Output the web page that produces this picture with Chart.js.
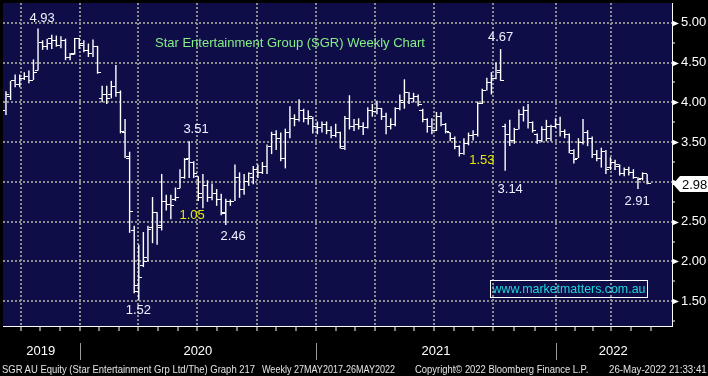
<!DOCTYPE html>
<html>
<head>
<meta charset="utf-8">
<title>Star Entertainment Group (SGR) Weekly Chart</title>
<script src="https://cdn.jsdelivr.net/npm/chart.js@4.4.1/dist/chart.umd.min.js"></script>
<style>
  html, body { margin: 0; padding: 0; background: #000; }
  #wrap { position: relative; width: 708px; height: 376px; overflow: hidden; font-family: 'Liberation Sans', Arial, sans-serif; }
  #chart { position: absolute; left: 0; top: 0; }
  .txt { position: absolute; white-space: nowrap; line-height: 1; }
  #title { left: 155px; top: 36px; font-size: 13px; color: #86ee86; }
  #site { left: 490px; top: 280px; width: 156px; height: 16px; border: 1px solid #fff; color: #1fd6e0; font-size: 12.4px;
          display: flex; align-items: center; justify-content: center; }
  .foot { top: 364px; font-size: 11px; color: #e4e4e4; transform-origin: left top; }
</style>
</head>
<body>
<div id="wrap">
  <canvas id="chart" width="708" height="376"></canvas>
  <div class="txt" id="title">Star Entertainment Group (SGR) Weekly Chart</div>
  <div class="txt" id="site">www.marketmatters.com.au</div>
  <div class="txt foot" style="left:2px" data-w="253">SGR AU Equity (Star Entertainment Grp Ltd/The) Graph 217</div>
  <div class="txt foot" style="left:262px" data-w="133">Weekly 27MAY2017-26MAY2022</div>
  <div class="txt foot" style="left:415px" data-w="173">Copyright© 2022 Bloomberg Finance L.P.</div>
  <div class="txt foot" style="left:609px" data-w="98">26-May-2022 21:33:41</div>
</div>
<script>
// weekly bars, Sep 2019 -> 26 May 2022 (index = week number)
const open = [3.90,4.08,4.27,4.22,4.30,4.32,4.28,4.40,4.75,4.70,4.80,4.78,4.72,4.78,4.56,4.62,4.80,4.74,4.65,4.62,
  4.70,4.05,4.10,4.10,4.20,4.12,3.62,3.30,2.39,1.70,1.95,2.05,2.43,2.61,2.43,2.75,2.72,2.78,2.92,3.05,
  3.30,3.25,3.07,2.85,2.95,2.80,2.85,2.78,2.60,2.75,2.76,3.05,2.90,3.00,3.05,3.15,3.12,3.20,3.44,3.60,
  3.55,3.30,3.62,3.80,3.78,3.90,3.80,3.80,3.70,3.68,3.72,3.65,3.58,3.62,3.42,3.80,3.70,3.72,3.70,3.68,
  3.90,3.88,3.92,3.82,3.70,3.72,3.92,4.00,4.12,4.05,4.08,3.90,3.78,3.70,3.65,3.82,3.72,3.62,3.55,3.45,
  3.36,3.48,3.58,3.60,3.99,4.15,4.25,4.30,4.40,3.70,3.60,3.52,3.66,3.85,3.90,3.75,3.60,3.52,3.66,3.55,
  3.70,3.72,3.63,3.60,3.36,3.30,3.50,3.62,3.55,3.35,3.30,3.38,3.18,3.25,3.20,3.10,3.15,3.12,3.05,3.04,3.10];
const high = [4.14,4.27,4.35,4.35,4.38,4.40,4.54,4.93,4.78,4.80,4.85,4.84,4.83,4.80,4.62,4.81,4.81,4.78,4.74,4.79,
  4.71,4.21,4.21,4.27,4.47,4.15,3.79,3.38,2.45,2.21,2.37,2.45,2.81,2.62,3.10,2.84,2.84,2.93,3.16,3.30,
  3.51,3.26,3.07,3.10,3.02,2.98,2.91,2.85,2.79,2.78,3.22,3.12,3.10,3.12,3.20,3.22,3.25,3.47,3.63,3.65,
  3.62,3.67,3.95,3.85,4.04,3.92,3.90,3.82,3.76,3.76,3.76,3.70,3.73,3.63,3.83,4.09,3.79,3.80,3.75,3.94,
  3.98,4.02,3.93,3.87,3.80,3.94,4.10,4.29,4.13,4.12,4.10,3.92,3.80,3.80,3.88,3.88,3.74,3.62,3.57,3.46,
  3.55,3.62,3.65,4.01,4.17,4.31,4.38,4.50,4.67,3.73,3.78,3.68,3.91,3.95,3.98,3.76,3.61,3.70,3.78,3.72,
  3.80,3.82,3.66,3.61,3.41,3.55,3.79,3.65,3.57,3.40,3.43,3.40,3.31,3.28,3.22,3.18,3.19,3.16,3.06,3.12,3.10];
const low = [3.84,4.03,4.19,4.19,4.28,4.24,4.28,4.40,4.66,4.66,4.67,4.70,4.68,4.53,4.53,4.60,4.67,4.63,4.57,4.57,
  4.36,4.00,3.98,4.05,4.07,3.61,3.30,2.36,1.60,1.52,1.93,2.00,2.23,2.21,2.39,2.64,2.53,2.76,2.92,3.04,
  3.05,3.05,2.76,2.67,2.75,2.77,2.70,2.58,2.46,2.70,2.76,2.80,2.84,2.95,2.97,3.05,3.10,3.10,3.35,3.40,
  3.26,3.17,3.55,3.70,3.76,3.75,3.72,3.61,3.60,3.62,3.60,3.55,3.56,3.42,3.40,3.66,3.64,3.66,3.59,3.67,
  3.82,3.85,3.78,3.60,3.66,3.70,3.90,3.92,3.98,4.00,3.95,3.75,3.62,3.60,3.64,3.70,3.61,3.51,3.41,3.32,
  3.34,3.46,3.52,3.57,3.98,4.15,4.10,4.29,4.27,3.14,3.45,3.48,3.66,3.76,3.67,3.62,3.48,3.50,3.51,3.51,
  3.68,3.57,3.55,3.36,3.23,3.30,3.47,3.45,3.30,3.26,3.18,3.10,3.15,3.15,3.08,3.07,3.08,3.04,2.91,3.02,2.97];
const close = [4.10,4.27,4.22,4.30,4.32,4.28,4.37,4.75,4.70,4.74,4.78,4.72,4.78,4.56,4.60,4.80,4.72,4.65,4.62,4.70,
  4.38,4.10,4.05,4.20,4.12,3.64,3.32,2.63,1.62,1.80,2.00,2.40,2.61,2.45,2.75,2.72,2.70,2.80,3.05,3.28,
  3.25,3.10,2.80,2.95,2.80,2.85,2.78,2.62,2.75,2.76,3.05,2.90,3.00,3.10,3.15,3.12,3.20,3.44,3.60,3.55,
  3.30,3.62,3.80,3.78,3.90,3.80,3.82,3.70,3.68,3.72,3.65,3.58,3.62,3.45,3.80,3.70,3.72,3.70,3.68,3.90,
  3.88,3.92,3.82,3.70,3.72,3.92,4.02,4.12,4.05,4.08,3.97,3.78,3.70,3.65,3.82,3.72,3.63,3.55,3.45,3.36,
  3.48,3.58,3.60,3.99,4.15,4.25,4.30,4.38,4.28,3.60,3.52,3.66,3.85,3.90,3.75,3.65,3.52,3.66,3.70,3.70,
  3.72,3.63,3.60,3.40,3.28,3.50,3.62,3.55,3.35,3.30,3.38,3.15,3.25,3.22,3.10,3.15,3.12,3.05,3.03,3.10,2.98];

// axis marks, in week-index units
const quarterStarts = [3.26, 16.09, 28.91, 41.74, 54.78, 67.61, 80.65, 93.48, 106.3, 120.2, 132.2];
const yearBreaks = [16.09, 67.61, 120.2];
const yearNames = ['2019', '2020', '2021', '2022'];
const yearCentres = [7.6, 41.9, 93.9, 132.6];

// labels written on the chart
const noteText  = ['4.93', '3.51', '1.05', '1.52', '2.46', '4.67', '1.53', '3.14', '2.91'];
const noteWeek  = [7.9, 41.5, 40.65, 28.9, 49.6, 108.0, 103.9, 110.1, 137.8];
const notePrice = [5.06, 3.66, 2.58, 1.39, 2.32, 4.82, 3.27, 2.91, 2.76];
const noteYellow = [false, false, true, false, false, false, true, false, false];

const X_MIN = -0.65, X_MAX = 145.43;
const Y_MIN = 1.189, Y_MAX = 5.249;
const NAVY = '#0e0d48';
const GRID = '#8c8c8c';
const FONT = "'Liberation Sans', Arial, sans-serif";

// month ticks: thirds between quarter lines
const monthTicks = [];
for (let q = 0; q < quarterStarts.length; q++) {
  const a = quarterStarts[q];
  const step = q + 1 < quarterStarts.length ? (quarterStarts[q + 1] - a) / 3 : 4.3;
  for (let k = 0; k < 3; k++) monthTicks.push(a + k * step);
  if (q === 0) monthTicks.unshift(a - step);
}
const xTicks = monthTicks.filter(v => v > X_MIN && v < X_MAX);

const yTicks = [];
for (let v = 1.25; v <= 5.001; v += 0.25) yTicks.push(+v.toFixed(2));
const isMajor = v => Math.abs(v * 2 - Math.round(v * 2)) < 1e-6;

// no extra room for overhanging labels: plot fills the frame
function noPad(s) {
  s.paddingLeft = 0; s.paddingRight = 0; s.paddingTop = 0; s.paddingBottom = 0;
}

function tickMark(side) {
  const c = document.createElement('canvas');
  c.width = 7; c.height = 1;
  const g = c.getContext('2d');
  g.fillStyle = '#fff';
  g.fillRect(side < 0 ? 0 : 4, 0, 3, 1);
  return c;
}

const decor = {
  id: 'decor',
  beforeDraw(chart) {
    const {ctx, chartArea: a} = chart;
    ctx.save();
    ctx.fillStyle = '#000';
    ctx.fillRect(0, 0, chart.width, chart.height);
    ctx.fillStyle = NAVY;
    ctx.fillRect(a.left, a.top, a.right - a.left, a.bottom - a.top);
    ctx.restore();
  },
  beforeDatasetsDraw(chart) {
    chart.ctx.imageSmoothingEnabled = false;
  },
  afterDraw(chart) {
    const ctx = chart.ctx, xs = chart.scales.x, ys = chart.scales.y;
    ctx.save();
    // arrow heads on the price axis
    ctx.fillStyle = '#fff';
    yTicks.filter(isMajor).forEach(v => {
      const py = Math.round(ys.getPixelForValue(v)) + 0.5;
      ctx.beginPath();
      ctx.moveTo(ys.left, py - 3);
      ctx.lineTo(ys.left + 7, py);
      ctx.lineTo(ys.left, py + 3);
      ctx.closePath();
      ctx.fill();
    });
    // year separators
    ctx.strokeStyle = '#9a9a9a';
    ctx.lineWidth = 1;
    yearBreaks.forEach(v => {
      const px = Math.round(xs.getPixelForValue(v)) + 0.5;
      ctx.beginPath();
      ctx.moveTo(px, 343);
      ctx.lineTo(px, 360);
      ctx.stroke();
    });
    // last price tag
    const last = close[close.length - 1];
    const py = Math.round(ys.getPixelForValue(last));
    const bx = ys.left + 1;
    ctx.fillStyle = '#fff';
    ctx.beginPath();
    ctx.moveTo(bx, py);
    ctx.lineTo(bx + 7, py - 8);
    ctx.lineTo(chart.width, py - 8);
    ctx.lineTo(chart.width, py + 8);
    ctx.lineTo(bx + 7, py + 8);
    ctx.closePath();
    ctx.fill();
    ctx.fillStyle = '#000';
    ctx.font = '13px ' + FONT;
    ctx.textAlign = 'left';
    ctx.textBaseline = 'middle';
    ctx.fillText(last.toFixed(2), ys.left + 10, py + 1);
    // notes
    ctx.textAlign = 'center';
    noteText.forEach((t, i) => {
      ctx.fillStyle = noteYellow[i] ? '#e8e800' : '#eef0ff';
      ctx.fillText(t, xs.getPixelForValue(noteWeek[i]), ys.getPixelForValue(notePrice[i]));
    });
    ctx.restore();
  }
};

Chart.defaults.font.family = FONT;

window.onload = function () {
  document.querySelectorAll('.foot').forEach(el => {
    el.style.transform = 'scaleX(' + (+el.dataset.w / el.offsetWidth) + ')';
  });

  const ctx = document.getElementById('chart').getContext('2d');
  new Chart(ctx, {
    type: 'bar',
    data: {
      datasets: [{
        type: 'line',
        data: open.map((v, i) => ({x: i, y: v})),
        showLine: false,
        pointStyle: tickMark(-1),
        pointRadius: 2,
        pointHoverRadius: 2
      }, {
        type: 'line',
        data: close.map((v, i) => ({x: i, y: v})),
        showLine: false,
        pointStyle: tickMark(1),
        pointRadius: 2,
        pointHoverRadius: 2
      }, {
        type: 'bar',
        data: low.map((v, i) => ({x: i, y: [v, high[i]]})),
        backgroundColor: '#ffffff',
        borderWidth: 0,
        barThickness: 1.4,
        inflateAmount: 0,
        grouped: false
      }]
    },
    options: {
      responsive: false,
      maintainAspectRatio: false,
      animation: false,
      events: [],
      layout: { padding: 0 },
      plugins: { legend: { display: false }, tooltip: { enabled: false } },
      scales: {
        x: {
          type: 'linear',
          position: 'bottom',
          weight: 0,
          min: X_MIN, max: X_MAX,
          offset: false,
          afterBuildTicks: s => { s.ticks = xTicks.map(v => ({value: v})); },
          afterFit: s => { s.height = 0; noPad(s); },
          ticks: { display: false },
          grid: {
            offset: false,
            color: c => quarterStarts.includes(c.tick.value) ? GRID : 'rgba(0,0,0,0)',
            lineWidth: 2,
            tickColor: '#ffffff',
            tickWidth: 1,
            tickLength: 5
          },
          border: { display: true, color: '#ffffff', width: 1, dash: [2, 2] }
        },
        xl: {
          type: 'linear',
          position: 'bottom',
          weight: 1,
          min: X_MIN, max: X_MAX,
          offset: false,
          afterBuildTicks: s => { s.ticks = yearCentres.map(v => ({value: v})); },
          afterFit: s => { s.height = 50; noPad(s); },
          ticks: {
            autoSkip: false,
            maxRotation: 0,
            padding: 18,
            color: '#ffffff',
            font: { size: 13 },
            callback: (v, i) => yearNames[i]
          },
          grid: { display: false, drawTicks: false, offset: false },
          border: { display: false }
        },
        y: {
          type: 'linear',
          position: 'right',
          min: Y_MIN, max: Y_MAX,
          afterBuildTicks: s => { s.ticks = yTicks.map(v => ({value: v})); },
          afterFit: s => { s.width = 36; noPad(s); },
          ticks: {
            autoSkip: false,
            padding: 6,
            color: '#ffffff',
            font: { size: 13 },
            callback: v => isMajor(v) ? v.toFixed(2) : ''
          },
          grid: {
            color: c => isMajor(c.tick.value) ? GRID : 'rgba(0,0,0,0)',
            lineWidth: 2,
            tickColor: c => isMajor(c.tick.value) ? 'rgba(0,0,0,0)' : '#ffffff',
            tickWidth: 1,
            tickLength: 3
          },
          border: { display: true, color: '#ffffff', width: 1, dash: [2, 2] }
        }
      }
    },
    plugins: [decor]
  });
};
</script>
</body>
</html>
